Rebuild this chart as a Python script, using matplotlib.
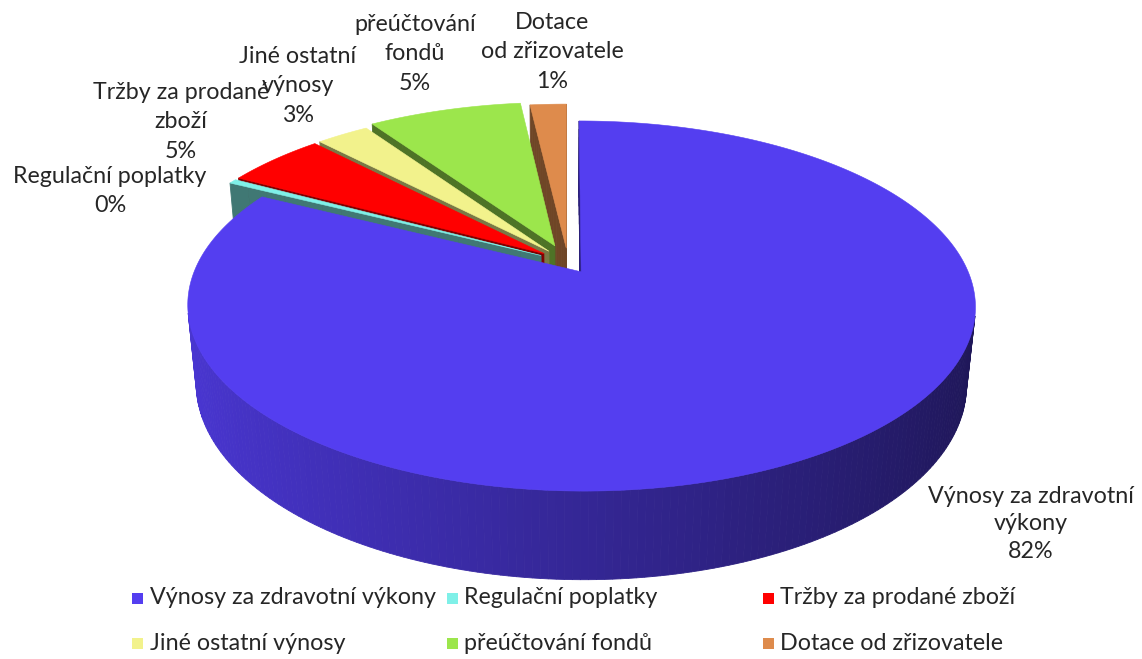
import numpy as np
import matplotlib
matplotlib.use("Agg")
import matplotlib.pyplot as plt
from matplotlib.patches import Polygon, Rectangle
from matplotlib.colors import to_rgb
from matplotlib.font_manager import FontProperties

# ---------------- data ----------------
categories = ["Výnosy za zdravotní výkony", "Regulační poplatky", "Tržby za prodané zboží",
              "Jiné ostatní výnosy", "přeúčtování fondů", "Dotace od zřizovatele"]
shares = [81.6, 0.4, 4.9, 2.6, 7.6, 1.8]            # slice sizes
pct_labels = ["82%", "0%", "5%", "3%", "5%", "1%"]  # printed data labels
label_names = ["Výnosy za zdravotní\nvýkony", "Regulační poplatky", "Tržby za prodané\nzboží",
               "Jiné ostatní\nvýnosy", "přeúčtování\nfondů", "Dotace\nod zřizovatele"]
colors = ["#543EF0", "#7FF0E8", "#FF0000", "#F2F28C", "#9CE64C", "#DE8B4C"]

# ---------------- layout ----------------
plt.rcParams['font.family'] = ['Lato', 'DejaVu Sans']
TEXT_COLOR = "#262626"
W, H = 1142, 659
fig = plt.figure(figsize=(W / 100, H / 100), dpi=100)
ax = fig.add_axes([0, 0, 1, 1])
ax.set_xlim(0, W)
ax.set_ylim(H, 0)
ax.axis('off')

# perspective camera for the 3-D pie
elev = np.deg2rad(27.2)
s, c = np.sin(elev), np.cos(elev)
D, F = 4.86, 1862.0
THICK = 0.23
EXPLODE = [0.065, 0.08, 0.08, 0.08, 0.1, 0.08]
CX, CY = 568.0, 262.0
cam = np.array([0.0, -D * c, D * s])


def project(P):
    P = np.asarray(P, float)
    X, Y, Z = P[..., 0], P[..., 1], P[..., 2]
    zc = D + c * Y - s * Z
    return np.stack([CX + F * X / zc, CY - F * (s * Y + c * Z) / zc], axis=-1)


def depth(P):
    m = np.asarray(P, float).reshape(-1, 3).mean(axis=0)
    return D + c * m[1] - s * m[2]


def shade(col, k):
    r, g, b = to_rgb(col)
    return (min(r * k, 1), min(g * k, 1), min(b * k, 1))


fr = np.array(shares) / np.sum(shares)
ends = 90 - 360 * np.cumsum(fr)
starts = np.concatenate([[90.0], ends[:-1]])

faces = []
tops = []
for i, (a1, a2) in enumerate(zip(starts, ends)):
    mid = np.deg2rad((a1 + a2) / 2)
    ox, oy = EXPLODE[i] * np.cos(mid), EXPLODE[i] * np.sin(mid)
    n = max(3, int(abs(a1 - a2) / 1.0) + 2)
    th = np.deg2rad(np.linspace(a1, a2, n))
    rim = np.stack([ox + np.cos(th), oy + np.sin(th)], axis=1)
    top3 = np.vstack([[ox, oy, 0.0], np.column_stack([rim, np.zeros(n)])])
    tops.append((project(top3), colors[i]))
    # outer wall
    for j in range(n - 1):
        tm = (th[j] + th[j + 1]) / 2
        nrm = np.array([np.cos(tm), np.sin(tm), 0.0])
        pm = np.array([ox + np.cos(tm), oy + np.sin(tm), -THICK / 2])
        if np.dot(nrm, cam - pm) <= 0:
            continue
        quad = np.array([[rim[j][0], rim[j][1], 0], [rim[j + 1][0], rim[j + 1][1], 0],
                         [rim[j + 1][0], rim[j + 1][1], -THICK], [rim[j][0], rim[j][1], -THICK]])
        k = 0.62 - 0.26 * np.cos(tm)
        faces.append((depth(quad), project(quad), shade(colors[i], k)))
    # radial cut faces
    for ang, sign in ((a1, 1.0), (a2, -1.0)):
        t = np.deg2rad(ang)
        nrm = np.array([np.cos(t + sign * np.pi / 2), np.sin(t + sign * np.pi / 2), 0.0])
        pm = np.array([ox + 0.5 * np.cos(t), oy + 0.5 * np.sin(t), -THICK / 2])
        if np.dot(nrm, cam - pm) <= 0:
            continue
        rr = np.linspace(0, 1, 17)
        for r0, r1 in zip(rr[:-1], rr[1:]):
            p0 = (ox + r0 * np.cos(t), oy + r0 * np.sin(t))
            p1 = (ox + r1 * np.cos(t), oy + r1 * np.sin(t))
            quad = np.array([[p0[0], p0[1], 0], [p1[0], p1[1], 0],
                             [p1[0], p1[1], -THICK], [p0[0], p0[1], -THICK]])
            faces.append((depth(quad), project(quad), shade(colors[i], 0.5)))

faces.sort(key=lambda f: -f[0])
z = 1
for _, pts, col in faces:
    ax.add_patch(Polygon(pts, closed=True, facecolor=col, edgecolor=col, lw=0.6, zorder=z))
    z += 1e-4
for pts, col in tops:
    ax.add_patch(Polygon(pts, closed=True, facecolor=col, edgecolor=col, lw=0.4, zorder=3))

# ---------------- font sizing ----------------
renderer = fig.canvas.get_renderer()
probe = ax.text(0, 0, categories[0], fontsize=10)
w10 = probe.get_window_extent(renderer).width
probe.remove()
FS = 10 * 286 / w10
fp = FontProperties(family=['Lato', 'DejaVu Sans'], size=FS)
_, lp_h, _ = renderer.get_text_width_height_descent("lp", fp, ismath=False)
LS = 31.0 / lp_h

# ---------------- data labels ----------------
label_pos = [(1031, 524), (110, 191), (181, 122), (298, 86), (415, 54), (552, 52)]
for i, (x, y) in enumerate(label_pos):
    ls = LS * (29.0 / 31.0) if i == 0 else LS
    ax.text(x, y, label_names[i] + "\n" + pct_labels[i], ha='center', va='center',
            multialignment='center', fontsize=FS, color=TEXT_COLOR, linespacing=ls, zorder=10)

# ---------------- legend ----------------
leg_cols_x = [137, 452, 768]
leg_rows_y = [598, 643]
MS = 11
for idx in range(len(categories)):
    col_i = idx % 3
    row_i = idx // 3
    mx, my = leg_cols_x[col_i], leg_rows_y[row_i]
    ax.add_patch(Rectangle((mx - MS / 2, my - MS / 2), MS, MS, facecolor=colors[idx],
                           edgecolor='none', zorder=10))
    ax.text(mx + MS / 2 + 7, my, categories[idx], ha='left', va='center',
            fontsize=FS, color=TEXT_COLOR, zorder=10)

fig.savefig("out.png", dpi=100)
